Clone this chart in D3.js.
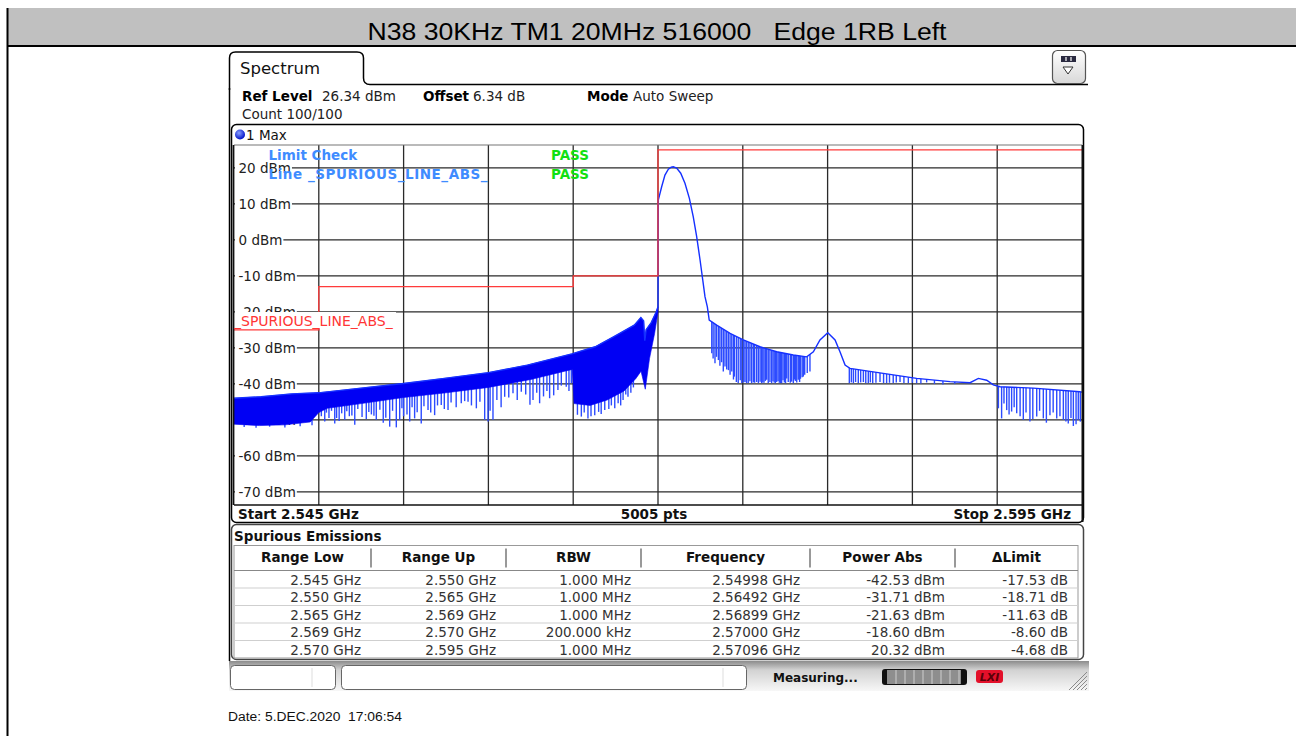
<!DOCTYPE html>
<html>
<head>
<meta charset="utf-8">
<script src="https://cdn.jsdelivr.net/npm/d3@7"></script>
<style>
  html, body { margin: 0; padding: 0; background: #fff; }
  svg { display: block; }
  text { font-family: "DejaVu Sans", Verdana, sans-serif; }
</style>
</head>
<body>
<svg id="chart" width="1296" height="736"></svg>
<script>
// ---- data ----
const title    = "N38 30KHz TM1 20MHz 516000   Edge 1RB Left";
const dateText = "Date: 5.DEC.2020  17:06:54";

const startMHz = 2545, stopMHz = 2595, refLevel = 26.34;
const xTicks = [2545, 2550, 2555, 2560, 2565, 2570, 2575, 2580, 2585, 2590, 2595];
const yTicks = [20, 10, 0, -10, -20, -30, -40, -50, -60, -70];

// limit line _SPURIOUS_LINE_ABS_ (MHz, dBm)
const limitStart = [2545, 2550, 2565, 2569, 2570];
const limitStop  = [2550, 2565, 2569, 2570, 2595];
const limitLevel = [-25, -13, -10, -10, 25];

// max-hold trace, upper edge [MHz, dBm]
const traceUpper = [
  [2545.00, -44.0], [2546.60, -43.6], [2548.40, -42.8], [2549.98, -42.5], [2552.50, -41.2],
  [2555.00, -39.9], [2557.40, -38.5], [2560.00, -36.9], [2562.30, -34.8], [2564.92, -31.7],
  [2566.30, -29.7], [2567.40, -26.9], [2568.60, -23.7], [2568.99, -21.6], [2569.15, -22.5],
  [2569.22, -28.0], [2569.30, -25.0], [2569.60, -23.0], [2569.90, -20.0], [2570.00, -18.6],
  [2570.02, 11.1], [2570.22, 14.8], [2570.41, 18.0], [2570.61, 19.6], [2570.78, 20.2],
  [2570.90, 20.3], [2571.10, 19.9], [2571.34, 18.5], [2571.59, 15.7], [2571.85, 11.5],
  [2572.08, 6.4], [2572.28, 0.9], [2572.48, -5.6], [2572.64, -11.2], [2572.77, -15.8],
  [2572.91, -18.6], [2573.02, -22.3], [2573.46, -23.7], [2574.25, -26.0], [2575.03, -27.8],
  [2576.01, -29.7], [2577.00, -31.1], [2577.98, -32.0], [2578.77, -32.5], [2579.16, -31.1],
  [2579.55, -27.8], [2580.01, -25.8], [2580.44, -27.8], [2580.73, -31.1], [2581.03, -34.8],
  [2581.32, -35.7], [2583.28, -37.1], [2585.25, -38.5], [2587.22, -39.4], [2588.40, -39.7],
  [2588.89, -38.5], [2589.38, -39.0], [2589.77, -40.3], [2590.17, -40.8], [2592.13, -41.2],
  [2594.88, -42.2], [2595.00, -42.3]
];

// lower edge of the solid part of the trace left of the carrier [MHz, dBm]
const traceLower = [
  [2545.00, -51.2], [2546.50, -51.6], [2548.00, -51.4], [2549.50, -50.6], [2550.00, -48.0],
  [2550.50, -46.8], [2552.50, -45.5], [2555.00, -43.8], [2557.50, -42.5], [2560.00, -41.0],
  [2562.50, -38.8], [2564.50, -36.5], [2564.95, -36.0], [2565.05, -45.5], [2566.00, -46.0],
  [2567.00, -44.5], [2568.00, -42.0], [2568.70, -38.5], [2569.00, -36.5], [2569.25, -41.5],
  [2569.50, -33.0], [2569.80, -26.0], [2570.00, -20.0]
];

// single-sweep dropouts below the trace [MHz, bottom dBm]
const dropouts = [
  [2545.60, -52.0], [2546.30, -52.2], [2547.10, -51.9], [2548.00, -52.1], [2548.90, -51.8], [2549.60, -51.5],
  [2550.15, -49.0], [2550.35, -50.5], [2550.45, -48.0], [2550.60, -49.5], [2550.75, -47.5], [2550.94, -51.0],
  [2551.05, -49.5], [2551.20, -50.3], [2551.35, -48.2], [2551.53, -50.0], [2551.65, -47.6], [2551.80, -49.0],
  [2551.95, -48.8], [2552.12, -51.4], [2552.30, -47.0], [2552.55, -49.2], [2552.80, -49.8], [2552.95, -47.8],
  [2553.10, -48.5], [2553.25, -48.9], [2553.39, -50.0], [2553.60, -47.2], [2553.80, -50.8], [2553.95, -49.4],
  [2554.18, -51.9], [2554.35, -47.5], [2554.57, -52.1], [2554.77, -50.0], [2554.90, -46.8], [2555.00, -49.0],
  [2555.20, -48.5], [2555.36, -50.5], [2555.50, -46.5], [2555.65, -49.6], [2555.80, -47.9], [2556.04, -51.0],
  [2556.20, -46.2], [2556.44, -47.3], [2556.60, -48.0], [2556.83, -48.7], [2557.00, -46.0], [2557.22, -45.9],
  [2557.40, -47.0], [2557.62, -47.3], [2557.80, -45.2], [2558.10, -46.5], [2558.40, -45.4], [2558.60, -44.8],
  [2558.80, -45.0], [2559.00, -46.0], [2559.29, -46.8], [2559.50, -45.0], [2559.78, -50.0], [2559.98, -50.5],
  [2560.10, -47.5], [2560.27, -50.0], [2560.50, -44.5], [2560.75, -46.5], [2560.96, -43.6], [2561.20, -43.8],
  [2561.45, -42.6], [2561.70, -44.5], [2561.94, -42.2], [2562.20, -43.0], [2562.45, -45.8], [2562.63, -44.5],
  [2562.85, -42.5], [2563.02, -45.4], [2563.25, -43.5], [2563.45, -42.0], [2563.61, -44.0], [2563.85, -43.2],
  [2564.10, -41.7], [2564.30, -40.5], [2564.59, -40.8], [2564.75, -42.0], [2564.89, -39.8],
  [2565.25, -48.6], [2565.48, -49.1], [2565.65, -48.0], [2565.87, -49.6], [2566.05, -49.0], [2566.27, -48.7],
  [2566.50, -47.8], [2566.65, -48.4], [2566.86, -47.3], [2567.10, -47.0], [2567.25, -46.0], [2567.45, -46.8],
  [2567.65, -45.4], [2567.80, -46.0], [2567.94, -44.5], [2568.10, -43.0], [2568.23, -43.6], [2568.40, -42.5],
  [2568.55, -41.0],
  [2573.17, -31.5], [2573.25, -33.0], [2573.36, -34.3], [2573.45, -32.5], [2573.56, -33.4], [2573.65, -35.0],
  [2573.75, -34.0], [2573.85, -36.6], [2573.95, -35.2], [2574.05, -36.0], [2574.15, -36.2], [2574.25, -37.5],
  [2574.35, -36.6], [2574.45, -38.8], [2574.50, -38.0], [2574.62, -39.5], [2574.73, -39.8], [2574.85, -39.0],
  [2574.94, -39.8], [2575.05, -39.6], [2575.13, -39.5], [2575.22, -39.8], [2575.32, -39.8], [2575.42, -39.3],
  [2575.52, -39.8], [2575.62, -39.6], [2575.70, -39.7], [2575.82, -39.5], [2575.92, -39.8], [2576.02, -39.4],
  [2576.11, -39.8], [2576.18, -39.6], [2576.25, -39.7], [2576.33, -39.2], [2576.41, -38.9], [2576.50, -39.8],
  [2576.60, -39.5], [2576.70, -39.8], [2576.78, -39.3], [2576.85, -39.6], [2576.92, -39.8], [2577.00, -39.5],
  [2577.08, -39.2], [2577.15, -39.7], [2577.22, -39.8], [2577.29, -39.8], [2577.37, -39.0], [2577.45, -39.6],
  [2577.52, -39.8], [2577.59, -38.5], [2577.68, -39.5], [2577.80, -39.7], [2577.88, -39.4], [2577.98, -39.8],
  [2578.05, -38.8], [2578.10, -39.2], [2578.18, -39.6], [2578.27, -38.9], [2578.35, -39.5], [2578.40, -38.6],
  [2578.50, -38.2], [2578.57, -38.0], [2578.65, -37.5], [2578.80, -37.0], [2578.96, -36.6],
  [2581.28, -39.8], [2581.40, -39.6], [2581.52, -39.8], [2581.65, -39.5], [2581.81, -39.8], [2581.95, -39.6],
  [2582.11, -39.5], [2582.25, -39.8], [2582.40, -39.8], [2582.52, -39.6], [2582.66, -39.8], [2582.85, -39.7],
  [2583.09, -39.5], [2583.30, -39.8], [2583.48, -39.8], [2583.65, -39.7], [2583.87, -39.8], [2584.05, -39.6],
  [2584.27, -39.5], [2584.50, -39.8], [2584.76, -39.8], [2585.00, -39.7], [2585.25, -39.8], [2585.50, -39.9],
  [2585.84, -39.6], [2586.30, -40.0], [2586.80, -40.2], [2587.50, -40.0],
  [2590.07, -46.8], [2590.26, -49.6], [2590.40, -45.5], [2590.56, -47.3], [2590.70, -48.5], [2590.85, -47.7],
  [2591.00, -46.5], [2591.15, -48.2], [2591.35, -49.0], [2591.54, -50.0], [2591.70, -48.0], [2591.93, -50.5],
  [2592.10, -49.8], [2592.33, -49.1], [2592.50, -47.5], [2592.72, -49.6], [2592.90, -50.8], [2593.11, -48.7],
  [2593.30, -48.0], [2593.51, -49.6], [2593.70, -49.0], [2593.90, -50.0], [2594.05, -50.5], [2594.19, -51.0],
  [2594.35, -49.5], [2594.49, -51.7], [2594.65, -51.2], [2594.78, -50.0], [2594.90, -50.5]
];

// spurious emissions table
const rangeLow   = ["2.545 GHz", "2.550 GHz", "2.565 GHz", "2.569 GHz", "2.570 GHz"];
const rangeUp    = ["2.550 GHz", "2.565 GHz", "2.569 GHz", "2.570 GHz", "2.595 GHz"];
const rbw        = ["1.000 MHz", "1.000 MHz", "1.000 MHz", "200.000 kHz", "1.000 MHz"];
const peakFreq   = ["2.54998 GHz", "2.56492 GHz", "2.56899 GHz", "2.57000 GHz", "2.57096 GHz"];
const powerAbs   = [-42.53, -31.71, -21.63, -18.60, 20.32];
const deltaLimit = [-17.53, -18.71, -11.63, -8.60, -4.68];

// ---- drawing ----
const svg  = d3.select("#chart");
const defs = svg.append("defs");
const FS   = "13.5px";

// page header
svg.append("rect").attr("x", 8).attr("y", 8).attr("width", 1288).attr("height", 38).attr("fill", "#c0c0c0");
svg.append("line").attr("x1", 8).attr("x2", 1296).attr("y1", 46).attr("y2", 46)
  .attr("stroke", "#000").attr("stroke-width", 2);
svg.append("line").attr("x1", 7.5).attr("x2", 7.5).attr("y1", 8).attr("y2", 736)
  .attr("stroke", "#000").attr("stroke-width", 2);
svg.append("text")
  .attr("x", 657).attr("y", 40).attr("text-anchor", "middle")
  .attr("textLength", 579).attr("lengthAdjust", "spacingAndGlyphs")
  .style("font-family", "'Liberation Sans', Arial, sans-serif")
  .style("font-size", "23px").style("white-space", "pre")
  .text(title);

// instrument window: tab + left border
svg.append("path")
  .attr("d", "M229.5,90 V58 Q229.5,52 235.5,52 H357 Q363.5,52 363.5,58 V78 Q363.5,84.5 370,84.5 H1088")
  .attr("fill", "none").attr("stroke", "#000").attr("stroke-width", 1.5);
svg.append("line").attr("x1", 229.5).attr("x2", 229.5).attr("y1", 88).attr("y2", 661)
  .attr("stroke", "#000").attr("stroke-width", 1.5);
svg.append("text").attr("x", 240).attr("y", 74).style("font-size", "16.5px").attr("fill", "#111").text("Spectrum");

// top-right icon
const ig = defs.append("linearGradient").attr("id", "iconGrad").attr("x1", 0).attr("y1", 0).attr("x2", 0).attr("y2", 1);
ig.append("stop").attr("offset", "0%").attr("stop-color", "#ffffff");
ig.append("stop").attr("offset", "100%").attr("stop-color", "#d8d8d8");
svg.append("rect").attr("x", 1052.5).attr("y", 50.5).attr("width", 33).attr("height", 33).attr("rx", 5)
  .attr("fill", "url(#iconGrad)").attr("stroke", "#555").attr("stroke-width", 1.2);
svg.append("rect").attr("x", 1061).attr("y", 56).attr("width", 15).attr("height", 6).attr("fill", "#2a2a40");
[1066, 1071].forEach(v => svg.append("line").attr("x1", v).attr("x2", v).attr("y1", 57).attr("y2", 61)
  .attr("stroke", "#fff").attr("stroke-width", 1.2));
svg.append("path").attr("d", "M1063,67 L1073,67 L1068,74 Z").attr("fill", "#fff").attr("stroke", "#333");

// settings lines
const info = [
  ["Ref Level", 242, true, 101], ["26.34 dBm", 322, false, 101],
  ["Offset", 423, true, 101], ["6.34 dB", 473, false, 101],
  ["Mode", 587, true, 101], ["Auto Sweep", 633, false, 101],
  ["Count 100/100", 242, false, 119]
];
info.forEach(([t, xx, b, yy]) => {
  svg.append("text").attr("x", xx).attr("y", yy).style("font-size", FS)
    .style("font-weight", b ? "bold" : "normal").attr("fill", b ? "#000" : "#222").text(t);
});

// "1 Max" diagram box
svg.append("rect").attr("x", 231.5).attr("y", 124.5).attr("width", 852).attr("height", 398).attr("rx", 5)
  .attr("fill", "#fff").attr("stroke", "#000").attr("stroke-width", 1.5);
const rg = defs.append("radialGradient").attr("id", "dotGrad").attr("cx", "40%").attr("cy", "35%").attr("r", "65%");
rg.append("stop").attr("offset", "0%").attr("stop-color", "#8aa0ff");
rg.append("stop").attr("offset", "100%").attr("stop-color", "#0010c8");
svg.append("circle").attr("cx", 240).attr("cy", 134.5).attr("r", 5).attr("fill", "url(#dotGrad)");
svg.append("text").attr("x", 246).attr("y", 139.5).style("font-size", FS).attr("fill", "#111").text("1 Max");

// plot area
const plot = { left: 234, right: 1082, top: 145, bottom: 505 };
const x = d3.scaleLinear().domain([startMHz, stopMHz]).range([plot.left, plot.right]);
const y = d3.scaleLinear().domain([refLevel - 100, refLevel]).range([plot.bottom, plot.top]);

defs.append("clipPath").attr("id", "plotClip").append("rect")
  .attr("x", plot.left).attr("y", plot.top)
  .attr("width", plot.right - plot.left).attr("height", plot.bottom - plot.top);

const grid = svg.append("g").attr("stroke", "#2a2a2a").attr("stroke-width", 1.3);
grid.selectAll("line.v").data(xTicks.slice(1, -1)).join("line").attr("class", "v")
  .attr("x1", d => x(d)).attr("x2", d => x(d)).attr("y1", plot.top).attr("y2", plot.bottom);
grid.selectAll("line.h").data(yTicks).join("line").attr("class", "h")
  .attr("x1", plot.left).attr("x2", plot.right).attr("y1", d => y(d)).attr("y2", d => y(d));

// y labels with white backing
const yLab = svg.append("g");
yTicks.forEach(v => {
  const g = yLab.append("g");
  const t = g.append("text").attr("x", 238.5).attr("y", y(v)).attr("dy", "0.36em")
    .style("font-size", "13.5px").attr("fill", "#222").text(`${v} dBm`);
  const bb = t.node().getBBox();
  g.insert("rect", "text").attr("x", plot.left + 1).attr("y", bb.y + 1)
    .attr("width", bb.x + bb.width - plot.left).attr("height", bb.height - 2).attr("fill", "#fff");
});

// trace
const traceG = svg.append("g").attr("clip-path", "url(#plotClip)");
const upperAt = d3.scaleLinear().domain(traceUpper.map(d => d[0])).range(traceUpper.map(d => d[1]));
traceG.selectAll("line.drop").data(dropouts).join("line").attr("class", "drop")
  .attr("x1", d => x(d[0])).attr("x2", d => x(d[0]))
  .attr("y1", d => y(upperAt(d[0]))).attr("y2", d => y(d[1]))
  .attr("stroke", "#2c4bff").attr("stroke-width", 1.4);

const line = d3.line().x(d => x(d[0])).y(d => y(d[1]));
const solid = traceUpper.filter(d => d[0] <= 2570).concat(traceLower.slice().reverse());
traceG.append("path").attr("d", line(solid) + "Z").attr("fill", "#0000f4").attr("stroke", "#0000f4").attr("stroke-width", 0.6);
traceG.append("path").attr("d", line(traceUpper)).attr("fill", "none")
  .attr("stroke", "#1530ff").attr("stroke-width", 1.4);

// limit line
const limitPts = limitStart.map((s, i) => [s, limitLevel[i]]);
limitPts.push([limitStop[limitStop.length - 1], limitLevel[limitLevel.length - 1]]);
svg.append("path").attr("clip-path", "url(#plotClip)")
  .attr("d", d3.line().curve(d3.curveStepAfter).x(d => x(d[0])).y(d => y(d[1]))(limitPts))
  .attr("fill", "none").attr("stroke", "#ff3b3b").attr("stroke-width", 1.3);

// plot border
svg.append("line").attr("x1", plot.left).attr("x2", plot.right).attr("y1", plot.top).attr("y2", plot.top)
  .attr("stroke", "#777").attr("stroke-width", 1.2);
svg.append("line").attr("x1", plot.left - 0.5).attr("x2", plot.left - 0.5).attr("y1", plot.top).attr("y2", plot.bottom)
  .attr("stroke", "#111").attr("stroke-width", 1.8);
svg.append("line").attr("x1", plot.right + 0.5).attr("x2", plot.right + 0.5).attr("y1", plot.top).attr("y2", plot.bottom + 17)
  .attr("stroke", "#111").attr("stroke-width", 2);
svg.append("line").attr("x1", plot.left).attr("x2", plot.right).attr("y1", plot.bottom).attr("y2", plot.bottom)
  .attr("stroke", "#111").attr("stroke-width", 1.6);

// limit line name
svg.append("rect").attr("x", plot.left + 1).attr("y", 312).attr("width", 161).attr("height", 16.5).attr("fill", "#fff");
svg.append("text").attr("x", plot.left).attr("y", 325.5).style("font-size", "14px").attr("fill", "#ff3535")
  .text("_SPURIOUS_LINE_ABS_");

// limit check
[["Limit Check", 159.5, null], ["Line _SPURIOUS_LINE_ABS_", 178.5, 219]].forEach(([t, yy, len]) => {
  const lt = svg.append("text").attr("x", 268.5).attr("y", yy).style("font-size", FS).style("font-weight", "bold")
    .attr("fill", "#3f8cff").text(t);
  if (len) lt.attr("textLength", len).attr("lengthAdjust", "spacing");
  svg.append("text").attr("x", 551).attr("y", yy).style("font-size", FS).style("font-weight", "bold")
    .attr("fill", "#12e012").text("PASS");
});

// x annotations
svg.append("text").attr("x", 238).attr("y", 518.5).style("font-size", FS).style("font-weight", "bold")
  .attr("fill", "#111").text(`Start ${(startMHz / 1000).toFixed(3)} GHz`);
svg.append("text").attr("x", 654).attr("y", 518.5).attr("text-anchor", "middle").style("font-size", FS)
  .style("font-weight", "bold").attr("fill", "#111").text("5005 pts");
svg.append("text").attr("x", 1071).attr("y", 518.5).attr("text-anchor", "end").style("font-size", FS)
  .style("font-weight", "bold").attr("fill", "#111").text(`Stop ${(stopMHz / 1000).toFixed(3)} GHz`);

// spurious emissions table
svg.append("rect").attr("x", 231.5).attr("y", 524.5).attr("width", 852).attr("height", 135).attr("rx", 5)
  .attr("fill", "#fff").attr("stroke", "#444").attr("stroke-width", 1.5);
svg.append("text").attr("x", 234).attr("y", 540.5).style("font-size", FS).style("font-weight", "bold")
  .attr("fill", "#111").text("Spurious Emissions");

const colEdges = [234, 371, 506, 641, 810, 955, 1078];
const colRight = [361, 496, 631, 800, 945, 1068];
const headers  = ["Range Low", "Range Up", "RBW", "Frequency", "Power Abs", "\u0394Limit"];
const columns  = [rangeLow, rangeUp, rbw, peakFreq,
  powerAbs.map(v => `${v.toFixed(2)} dBm`), deltaLimit.map(v => `${v.toFixed(2)} dB`)];
const headTop = 545.5, headBot = 570.5, rowH = 17.5;

svg.append("rect").attr("x", colEdges[0]).attr("y", headTop).attr("width", colEdges[6] - colEdges[0])
  .attr("height", headBot - headTop + rowH * 5).attr("fill", "#fff").attr("stroke", "#999");
svg.append("line").attr("x1", colEdges[0]).attr("x2", colEdges[6]).attr("y1", headBot).attr("y2", headBot)
  .attr("stroke", "#888");
colEdges.slice(1, -1).forEach(e => svg.append("line").attr("x1", e).attr("x2", e)
  .attr("y1", headTop + 3).attr("y2", headBot - 3).attr("stroke", "#555").attr("stroke-width", 1.2));
headers.forEach((h, i) => svg.append("text").attr("x", (colEdges[i] + colEdges[i + 1]) / 2).attr("y", 561.5)
  .attr("text-anchor", "middle").style("font-size", FS).style("font-weight", "bold").attr("fill", "#111").text(h));
d3.range(1, 5).forEach(r => svg.append("line").attr("x1", colEdges[0]).attr("x2", colEdges[6])
  .attr("y1", headBot + r * rowH).attr("y2", headBot + r * rowH).attr("stroke", "#cfcfcf"));
columns.forEach((col, c) => col.forEach((v, r) => svg.append("text")
  .attr("x", colRight[c]).attr("y", headBot + 14 + r * rowH).attr("text-anchor", "end")
  .style("font-size", FS).attr("fill", "#333").text(v)));

// status bar
const sg = defs.append("linearGradient").attr("id", "statusGrad").attr("x1", 0).attr("y1", 0).attr("x2", 0).attr("y2", 1);
sg.append("stop").attr("offset", "0%").attr("stop-color", "#8c8c8c");
sg.append("stop").attr("offset", "30%").attr("stop-color", "#d2d2d2");
sg.append("stop").attr("offset", "100%").attr("stop-color", "#f7f7f7");
svg.append("rect").attr("x", 229).attr("y", 661).attr("width", 860).attr("height", 30).attr("fill", "url(#statusGrad)");
[[230.5, 335.5, 312], [341.5, 746.5, 723]].forEach(([a, b, sep]) => {
  svg.append("rect").attr("x", a).attr("y", 665.5).attr("width", b - a).attr("height", 24).attr("rx", 4)
    .attr("fill", "#fff").attr("stroke", "#666");
  svg.append("line").attr("x1", sep).attr("x2", sep).attr("y1", 668).attr("y2", 687).attr("stroke", "#ddd");
});
svg.append("text").attr("x", 773).attr("y", 682).style("font-size", "12px").style("font-weight", "bold")
  .attr("fill", "#111").text("Measuring...");
svg.append("rect").attr("x", 882).attr("y", 669).attr("width", 85).attr("height", 16).attr("rx", 3).attr("fill", "#111");
svg.append("rect").attr("x", 887).attr("y", 670).attr("width", 74).attr("height", 14).attr("fill", "#8e8e8e");
d3.range(0, 8).forEach(k => svg.append("line").attr("x1", 896 + k * 9).attr("x2", 896 + k * 9)
  .attr("y1", 670).attr("y2", 684).attr("stroke", "#c4c4c4").attr("stroke-width", 1.2));
svg.append("rect").attr("x", 976).attr("y", 670).attr("width", 27).attr("height", 13).attr("rx", 3).attr("fill", "#e3102a");
svg.append("text").attr("x", 989.5).attr("y", 681).attr("text-anchor", "middle").style("font-size", "11px")
  .style("font-weight", "bold").style("font-style", "italic").attr("fill", "#5a0008").text("LXI");
d3.range(0, 5).forEach(k => svg.append("line").attr("x1", 1087).attr("y1", 672 + k * 4)
  .attr("x2", 1069 + k * 4).attr("y2", 690).attr("stroke", "#8a8a8a").attr("stroke-width", 1));

// date
svg.append("text").attr("x", 228).attr("y", 721).attr("textLength", 174).attr("lengthAdjust", "spacingAndGlyphs")
  .style("font-family", "'Liberation Sans', Arial, sans-serif").style("font-size", "12.5px")
  .style("white-space", "pre").attr("fill", "#111").text(dateText);
</script>
</body>
</html>
